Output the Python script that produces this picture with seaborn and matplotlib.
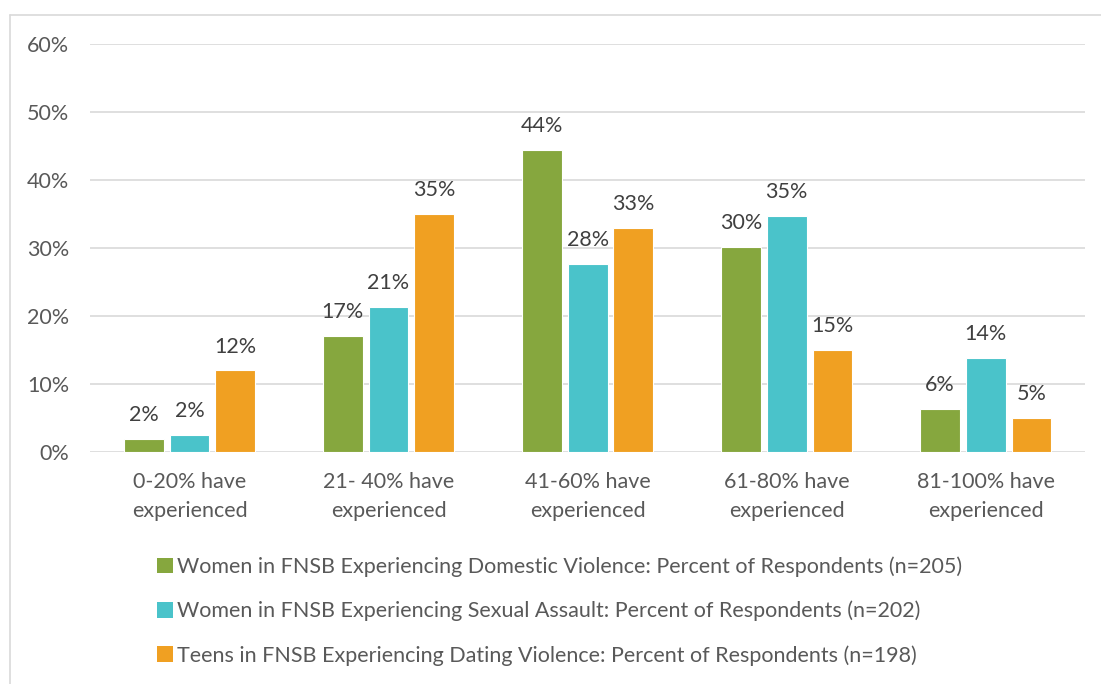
import matplotlib
matplotlib.use("Agg")
import matplotlib.pyplot as plt
from matplotlib.lines import Line2D
from matplotlib.patches import Patch
import seaborn as sns
import pandas as pd

categories = ["0-20% have\nexperienced", "21- 40% have\nexperienced", "41-60% have\nexperienced",
              "61-80% have\nexperienced", "81-100% have\nexperienced"]
series_names = [
    "Women in FNSB Experiencing Domestic Violence: Percent of Respondents (n=205)",
    "Women in FNSB Experiencing Sexual Assault: Percent of Respondents (n=202)",
    "Teens in FNSB Experiencing Dating Violence: Percent of Respondents (n=198)",
]
domestic_violence = [2.0, 17.1, 44.4, 30.2, 6.3]
sexual_assault = [2.5, 21.3, 27.7, 34.7, 13.9]
dating_violence = [12.0, 35.0, 33.0, 15.0, 5.0]
yticks = [0, 10, 20, 30, 40, 50, 60]

colors = ["#86A73E", "#4AC3CA", "#F0A022"]

df = pd.DataFrame({
    "category": categories * 3,
    "series": [series_names[0]] * 5 + [series_names[1]] * 5 + [series_names[2]] * 5,
    "value": domestic_violence + sexual_assault + dating_violence,
})

sns.set_theme(style="white")
plt.rcParams["font.family"] = ["Lato", "DejaVu Sans"]

FS = 15.5

fig = plt.figure(figsize=(11.01, 6.84), dpi=100)
ax = fig.add_axes([0.0817, 0.339, 0.904, 0.597])

sns.barplot(data=df, x="category", y="value", hue="series", hue_order=series_names,
            order=categories, palette=colors, saturation=1, width=0.69, gap=0.13,
            edgecolor="white", linewidth=0.8, ax=ax, legend=False, zorder=3)

for container in ax.containers:
    ax.bar_label(container, labels=[f"{v:.0f}%" for v in container.datavalues],
                 padding=10, fontsize=FS, color="#404040")

ax.set_ylim(0, 60)
ax.set_yticks(yticks)
ax.set_yticklabels([f"{t}%" for t in yticks])
ax.set_xlim(-0.5, 4.5)
ax.yaxis.grid(True, color="#D9D9D9", linewidth=1.2, zorder=0)
ax.set_axisbelow(True)
for s in ax.spines.values():
    s.set_visible(False)
ax.tick_params(axis="y", length=0, pad=15, labelsize=FS, labelcolor="#595959")
ax.tick_params(axis="x", length=0, pad=14, labelsize=FS, labelcolor="#595959")
for lbl in ax.get_xticklabels():
    lbl.set_linespacing(1.6)
ax.set_xlabel("")
ax.set_ylabel("")

handles = [Patch(facecolor=c, edgecolor="none") for c in colors]
fig.legend(handles, series_names, loc="upper left", bbox_to_anchor=(0.1345, 0.199),
           frameon=False, fontsize=FS, labelcolor="#595959", handlelength=0.75,
           handleheight=0.75, handletextpad=0.2, labelspacing=1.1, borderaxespad=0)

# outer frame lines
fig.add_artist(Line2D([0.0095, 0.0095], [0, 0.978], color="#D9D9D9", linewidth=1.2,
                      transform=fig.transFigure))
fig.add_artist(Line2D([0.0095, 1.0], [0.978, 0.978], color="#D9D9D9", linewidth=1.2,
                      transform=fig.transFigure))

fig.savefig("out.png", dpi=100)
